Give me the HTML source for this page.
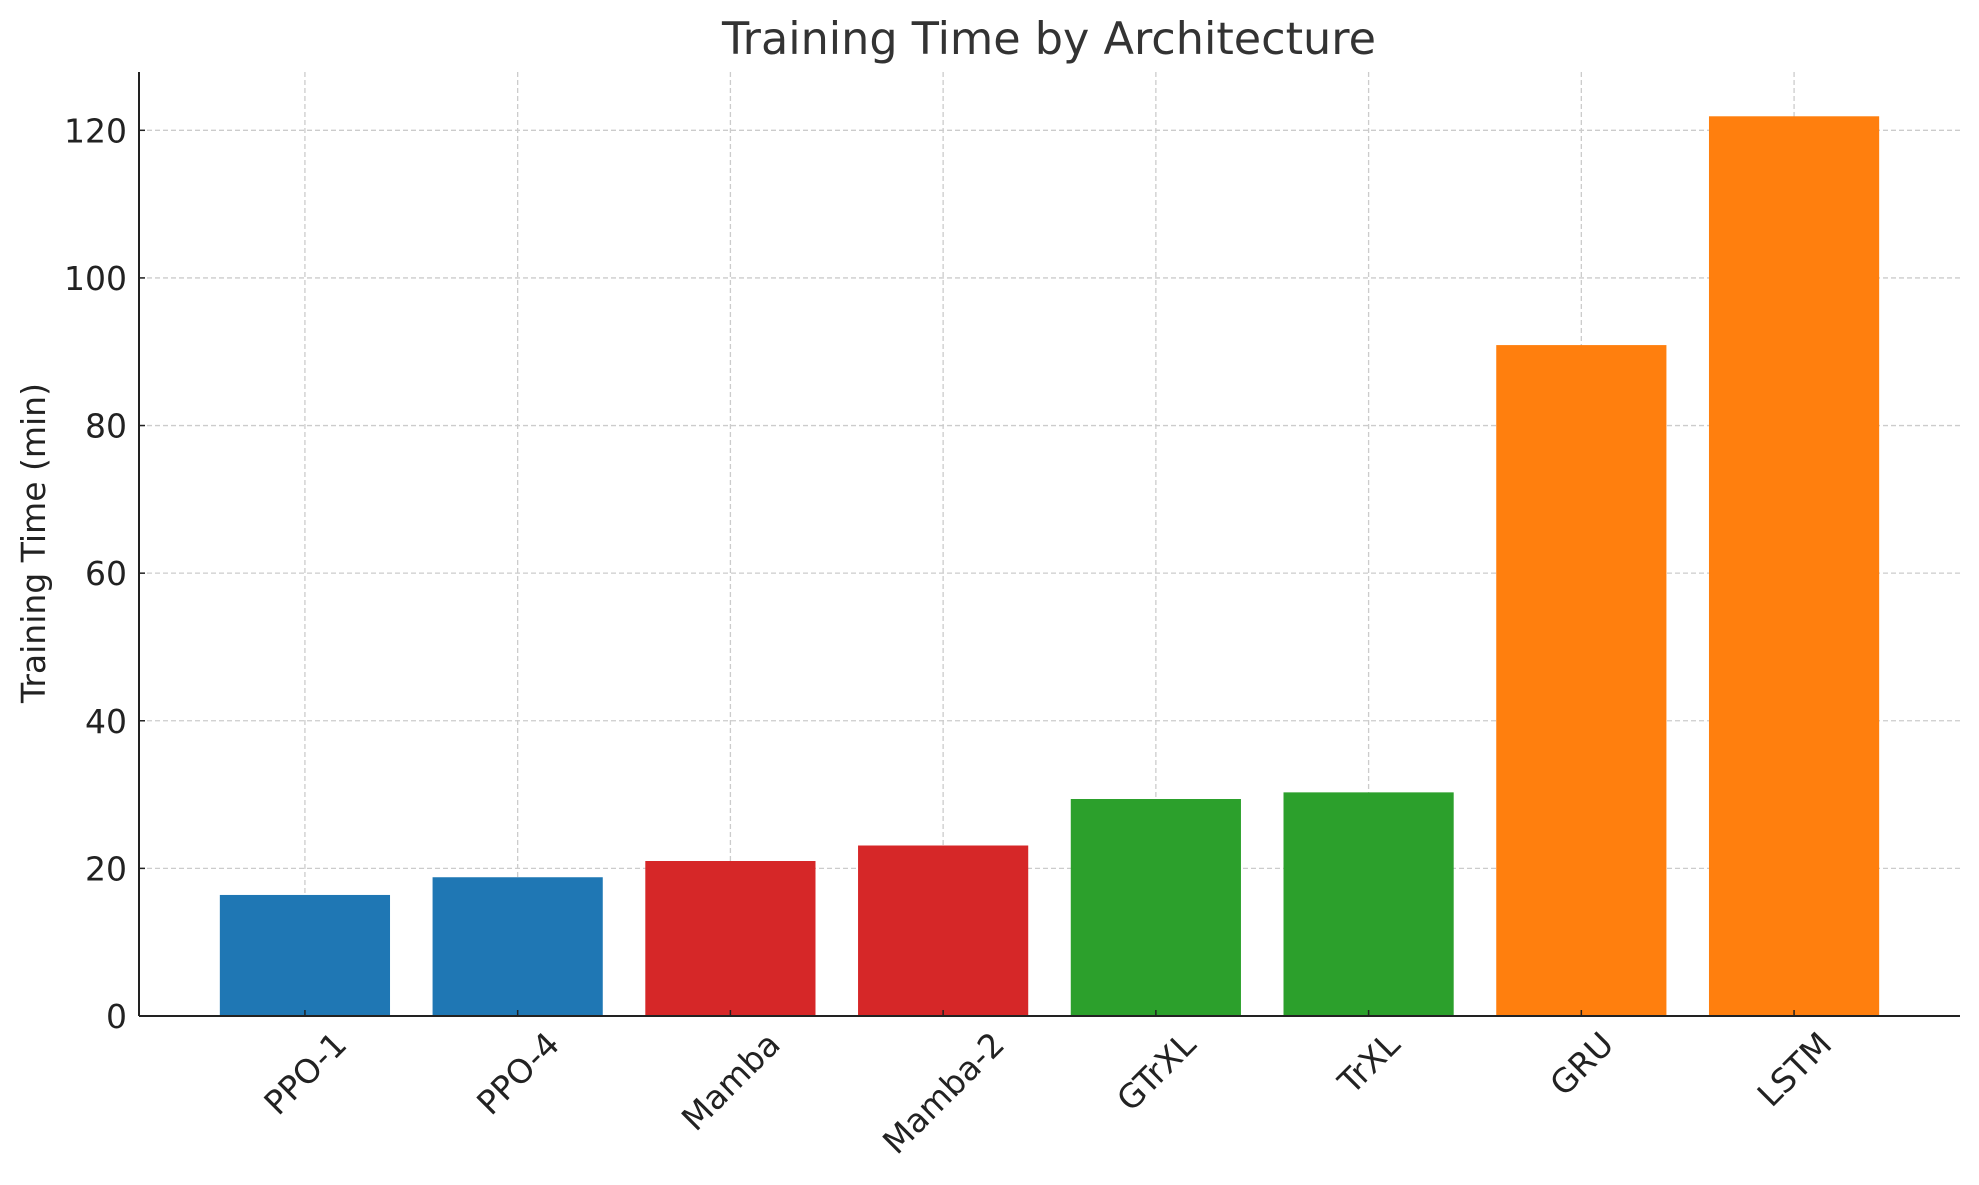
<!DOCTYPE html>
<html><head><meta charset="utf-8"><style>
html,body{margin:0;padding:0;background:#fff;}
svg text{font-family:"DejaVu Sans","Liberation Sans",sans-serif;}
</style></head><body>
<svg id="chart" width="1979" height="1180" xmlns="http://www.w3.org/2000/svg">
<text x="1049" y="54" text-anchor="middle" font-size="44.5" fill="#333">Training Time by Architecture</text>
<text transform="translate(45,543) rotate(-90)" text-anchor="middle" font-size="33" fill="#222">Training Time (min)</text>
<g id="grid"></g><g id="bars"></g><g id="axes"></g>
</svg>
<script>
const categories=["PPO-1","PPO-4","Mamba","Mamba-2","GTrXL","TrXL","GRU","LSTM"];
const values=[16.4,18.8,21.0,23.1,29.4,30.3,90.9,121.9];
const colors=["#1f77b4","#1f77b4","#d62728","#d62728","#2ca02c","#2ca02c","#ff7f0e","#ff7f0e"];
const yTicks=[0,20,40,60,80,100,120];
const L=139,R=1960,T=72,B=1016;
const xMin=-0.78,xMax=7.78,yMax=127.9;
const xs=i=>L+(i-xMin)/(xMax-xMin)*(R-L);
const ys=v=>B-v/yMax*(B-T);
const NS="http://www.w3.org/2000/svg";
function mk(t,a,p){const e=document.createElementNS(NS,t);for(const k in a)e.setAttribute(k,a[k]);p.appendChild(e);return e;}
const grid=document.getElementById('grid'),bars=document.getElementById('bars'),axes=document.getElementById('axes');
const bw=(xs(1)-xs(0))*0.8;
yTicks.forEach(v=>{
 const g=mk('line',{x1:L,x2:R,y1:ys(v),y2:ys(v),stroke:'#cccccc','stroke-width':1.3,'stroke-dasharray':'5,3'},grid);
 
 
 const tk=mk('line',{x1:L,x2:L+6,y1:ys(v),y2:ys(v),stroke:'#222','stroke-width':1.5},axes);
 
 
 const t=mk('text',{x:L-12,y:ys(v)+12,'text-anchor':'end','font-size':33,fill:'#222'},axes);
 t.textContent=v;
 
 
});
categories.forEach((c,i)=>{
 const x=xs(i);
 const g=mk('line',{x1:x,x2:x,y1:T,y2:B,stroke:'#cccccc','stroke-width':1.3,'stroke-dasharray':'5,3'},grid);
 
 
 const b=mk('rect',{x:x-bw/2,y:ys(values[i]),width:bw,height:B-ys(values[i]),fill:colors[i]},bars);
 
 
 const tk=mk('line',{x1:x,x2:x,y1:B,y2:B-6,stroke:'#222','stroke-width':1.5},axes);
 
 
 const t=mk('text',{'text-anchor':'middle','font-size':33,fill:'#222'},axes);
 t.textContent=c;
 
 
 const len=t.getComputedTextLength();
 const cy=1029+(len+25)*0.7071/2;
 t.setAttribute('transform','translate('+x+','+cy+') rotate(-45) translate(0,12)');
});
const yl=mk('line',{x1:L,x2:L,y1:T,y2:B,stroke:'#222','stroke-width':2},axes);


const xl=mk('line',{x1:L,x2:R,y1:B,y2:B,stroke:'#222','stroke-width':2},axes);


</script>
</body></html>
